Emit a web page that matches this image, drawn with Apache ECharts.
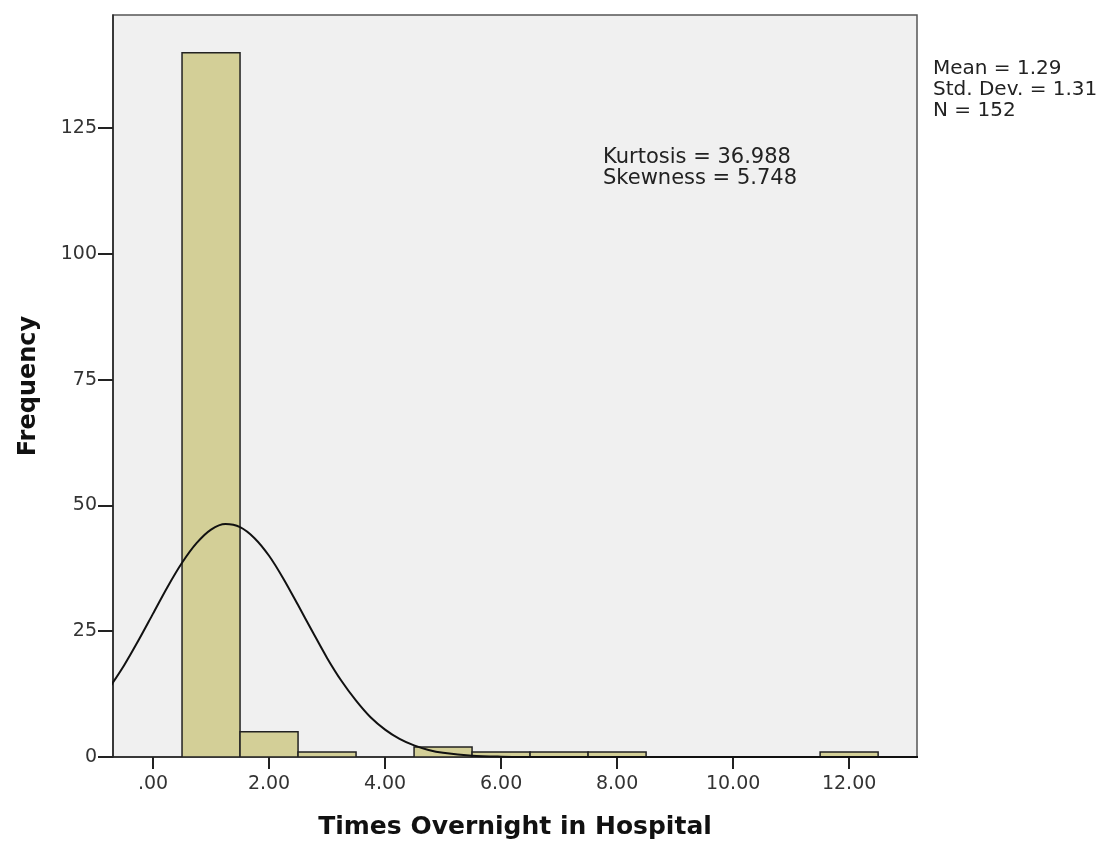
<!DOCTYPE html>
<html>
<head>
<meta charset="utf-8">
<script src="https://cdn.jsdelivr.net/npm/echarts@6/dist/echarts.min.js"></script>
<style>
    html, body { margin: 0; padding: 0; background: #ffffff; }
    #main { width: 1102px; height: 845px; }
</style>
</head>
<body>
<div id="main"></div>
<script>
// histogram bins (centre of each bin, width 1)
let binCenters = [1, 2, 3, 5, 6, 7, 8, 12];
let binCounts = [140, 5, 1, 2, 1, 1, 1, 1];
let binWidth = 1;

// normal curve
let curveX = [-0.75, -0.5, -0.25, 0, 0.25, 0.5, 0.75, 1, 1.25, 1.5, 1.75, 2, 2.25, 2.5, 2.75, 3,
    3.25, 3.5, 3.75, 4, 4.25, 4.5, 4.75, 5, 5.5, 6, 6.5, 7, 13.2];
let curveY = [13.8, 18.2, 23.2, 28.5, 33.8, 38.6, 42.5, 45.2, 46.3, 45.7, 43.5, 40.0, 35.4, 30.2, 24.9, 19.7,
    15.1, 11.2, 7.9, 5.45, 3.6, 2.3, 1.4, 0.84, 0.26, 0.07, 0.01, 0, 0];

// tick labels
let xTicks = [0, 2, 4, 6, 8, 10, 12];

let statsRight = ['Mean = 1.29', 'Std. Dev. = 1.31', 'N = 152'];
let statsInside = ['Kurtosis = 36.988', 'Skewness = 5.748'];

let chart = echarts.init(document.getElementById('main'));

let barData = binCenters.map(function (c, i) {
    return [c - binWidth / 2, c + binWidth / 2, binCounts[i]];
});
let curveData = curveX.map(function (x, i) {
    return [x, curveY[i]];
});

let labelFont = 'DejaVu Sans';

let option = {
    animation: false,
    backgroundColor: '#ffffff',
    grid: {
        left: 113,
        right: 185,
        top: 15,
        bottom: 87,
        show: true,
        backgroundColor: '#f0f0f0',
        borderColor: '#555555',
        borderWidth: 1.5
    },
    xAxis: {
        type: 'value',
        min: -0.69,
        max: 13.17,
        name: 'Times Overnight in Hospital',
        nameLocation: 'middle',
        nameGap: 58,
        nameTextStyle: {
            fontFamily: labelFont,
            fontWeight: 'bold',
            fontSize: 25,
            color: '#111111'
        },
        axisLine: { show: true, onZero: false, lineStyle: { color: '#222222', width: 1.5 } },
        axisTick: {
            show: true,
            customValues: xTicks,
            length: 12,
            lineStyle: { color: '#222222', width: 2 }
        },
        axisLabel: {
            customValues: xTicks,
            fontFamily: labelFont,
            fontSize: 19,
            color: '#333333',
            margin: 18,
            formatter: function (v) {
                return v === 0 ? '.00' : v.toFixed(2);
            }
        },
        splitLine: { show: false }
    },
    yAxis: {
        type: 'value',
        min: 0,
        max: 147.5,
        interval: 25,
        name: 'Frequency',
        nameLocation: 'middle',
        nameGap: 72,
        nameTextStyle: {
            fontFamily: labelFont,
            fontWeight: 'bold',
            fontSize: 24,
            color: '#111111'
        },
        axisLine: { show: true, onZero: false, lineStyle: { color: '#222222', width: 1.5 } },
        axisTick: {
            show: true,
            length: 15,
            lineStyle: { color: '#222222', width: 2 }
        },
        axisLabel: {
            fontFamily: labelFont,
            fontSize: 19,
            color: '#333333',
            margin: 16,
            showMaxLabel: false
        },
        splitLine: { show: false }
    },
    series: [
        {
            type: 'custom',
            clip: true,
            renderItem: function (params, api) {
                let p0 = api.coord([api.value(0), api.value(2)]);
                let p1 = api.coord([api.value(1), 0]);
                return {
                    type: 'rect',
                    shape: { x: p0[0], y: p0[1], width: p1[0] - p0[0], height: p1[1] - p0[1] },
                    style: { fill: '#d3cf97', stroke: '#222222', lineWidth: 1.5 }
                };
            },
            encode: { x: [0, 1], y: 2 },
            data: barData
        },
        {
            type: 'line',
            smooth: 0.3,
            symbol: 'none',
            clip: true,
            lineStyle: { color: '#111111', width: 2 },
            data: curveData,
            z: 3
        }
    ],
    graphic: [
        {
            type: 'text',
            left: 933,
            top: 58,
            style: {
                text: statsRight.join('\n'),
                font: '20px "DejaVu Sans"',
                lineHeight: 21,
                fill: '#222222'
            }
        },
        {
            type: 'text',
            left: 603,
            top: 147,
            style: {
                text: statsInside.join('\n'),
                font: '21px "DejaVu Sans"',
                lineHeight: 21,
                fill: '#222222',
                align: 'center'
            }
        }
    ]
};

chart.setOption(option);
</script>
</body>
</html>
